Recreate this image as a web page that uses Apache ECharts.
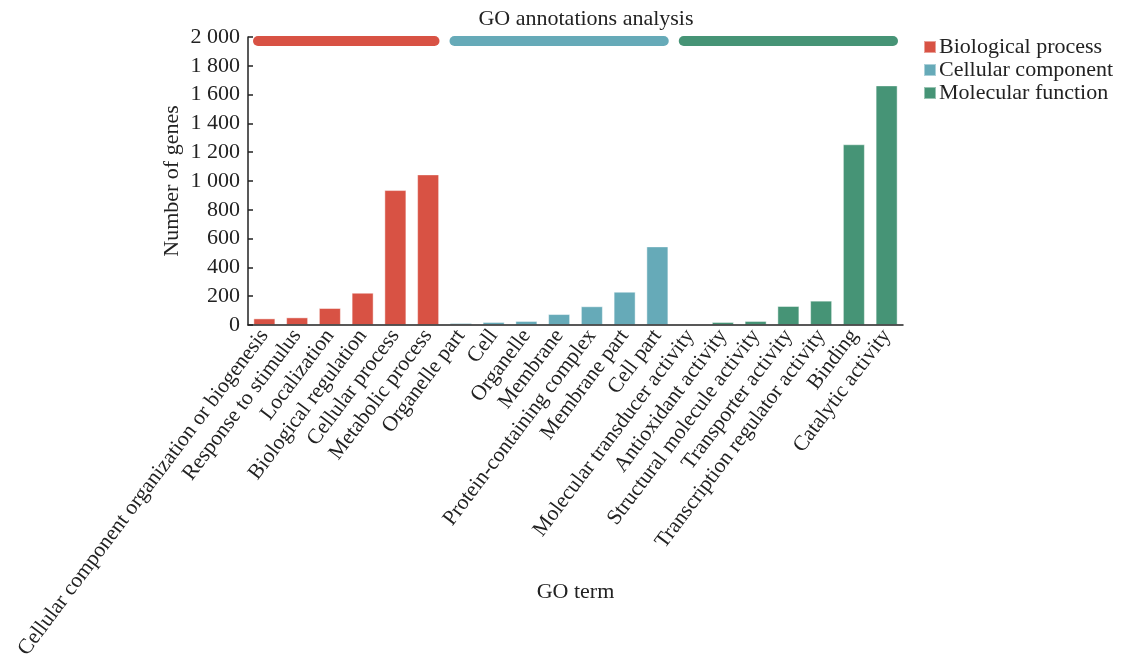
<!DOCTYPE html>
<html>
<head>
<meta charset="utf-8">
<title>GO annotations analysis</title>
<script src="https://cdn.jsdelivr.net/npm/echarts@6/dist/echarts.min.js"></script>
<style>
  html, body { margin: 0; padding: 0; background: #ffffff; }
  #chart { width: 1121px; height: 671px; }
</style>
</head>
<body>
<div id="chart"></div>
<script>
// GO terms per ontology and their gene counts
const bpTerms = ['Cellular component organization or biogenesis', 'Response to stimulus', 'Localization',
  'Biological regulation', 'Cellular process', 'Metabolic process'];
const bpCounts = [46, 53, 118, 224, 937, 1046];

const ccTerms = ['Organelle part', 'Cell', 'Organelle', 'Membrane', 'Protein-containing complex',
  'Membrane part', 'Cell part'];
const ccCounts = [14, 21, 28, 76, 130, 231, 546];

const mfTerms = ['Molecular transducer activity', 'Antioxidant activity', 'Structural molecule activity',
  'Transporter activity', 'Transcription regulator activity', 'Binding', 'Catalytic activity'];
const mfCounts = [7, 21, 28, 132, 169, 1255, 1664];

const groupNames = ['Biological process', 'Cellular component', 'Molecular function'];
const groupColors = ['#d85244', '#66aab8', '#469476'];
const yTicks = [0, 200, 400, 600, 800, 1000, 1200, 1400, 1600, 1800, 2000];

const categories = [].concat(bpTerms, ccTerms, mfTerms);
const countLists = [bpCounts, ccCounts, mfCounts];

// one bar series per ontology, padded with '-' outside its own terms
let offset = 0;
const ranges = [];
const barSeries = countLists.map((counts, g) => {
  const data = categories.map(() => '-');
  counts.forEach((v, i) => { data[offset + i] = v; });
  ranges.push([offset, offset + counts.length - 1, g]);
  offset += counts.length;
  return {
    name: groupNames[g],
    type: 'bar',
    stack: 'terms',
    barWidth: 22,
    data: data,
    itemStyle: { color: groupColors[g], borderColor: 'rgba(255,255,255,0.45)', borderWidth: 1 }
  };
});

const serif = 'Liberation Serif';
const fs = 22;

// rounded strip above each ontology group
const groupStrip = {
  name: 'groups',
  type: 'custom',
  data: ranges,
  silent: true,
  renderItem: function (params, api) {
    const start = api.value(0), end = api.value(1), g = api.value(2);
    const band = api.size([1, 0])[0];
    const p0 = api.coord([start, 1972]);
    const p1 = api.coord([end, 1972]);
    const x0 = p0[0] - band / 2 + 5;
    const x1 = p1[0] + band / 2 - 5;
    return {
      type: 'rect',
      shape: { x: x0, y: p0[1] - 5, width: x1 - x0, height: 10, r: 5 },
      style: { fill: groupColors[g] }
    };
  },
  encode: { x: 0, y: 1 },
  z: 3
};

const chart = echarts.init(document.getElementById('chart'));
chart.setOption({
  backgroundColor: '#ffffff',
  animation: false,
  title: {
    text: 'GO annotations analysis',
    left: 581, top: 3,
    textAlign: 'center',
    textStyle: { fontFamily: serif, fontSize: fs, fontWeight: 'normal', color: '#222' }
  },
  legend: {
    data: groupNames,
    orient: 'vertical',
    left: 918, top: 31,
    icon: 'rect',
    itemWidth: 12, itemHeight: 12,
    itemGap: 1,
    textStyle: { fontFamily: serif, fontSize: fs, color: '#222', padding: [0, 0, 0, -2] }
  },
  grid: { left: 248, right: 218, top: 37, bottom: 346, containLabel: false, outerBoundsMode: 'none' },
  xAxis: {
    type: 'category',
    data: categories,
    z: 5,
    name: 'GO term',
    nameLocation: 'middle',
    nameGap: 256,
    nameMoveOverlap: false,
    nameTextStyle: { fontFamily: serif, fontSize: fs, color: '#222' },
    axisLine: { lineStyle: { color: '#222', width: 1.5 } },
    axisTick: { inside: true, alignWithLabel: true, length: 6, lineStyle: { color: '#222', width: 1.5 } },
    axisLabel: { rotate: 53, margin: 7, fontFamily: serif, fontSize: 21.5, color: '#222', interval: 0 }
  },
  yAxis: {
    type: 'value',
    min: 0, max: 2000, interval: 200,
    name: 'Number of genes',
    nameLocation: 'middle',
    nameGap: 65,
    nameMoveOverlap: false,
    nameTextStyle: { fontFamily: serif, fontSize: fs, color: '#222' },
    splitLine: { show: false },
    axisLine: { show: true, lineStyle: { color: '#222', width: 1.5 } },
    axisTick: { show: true, inside: true, length: 5, lineStyle: { color: '#222', width: 1.5 } },
    axisLabel: {
      margin: 8, fontFamily: serif, fontSize: fs, color: '#222',
      formatter: function (v) {
        return yTicks.indexOf(v) >= 0 ? String(v).replace(/\B(?=(\d{3})+(?!\d))/g, ' ') : '';
      }
    }
  },
  series: barSeries.concat([groupStrip])
});
</script>
</body>
</html>
